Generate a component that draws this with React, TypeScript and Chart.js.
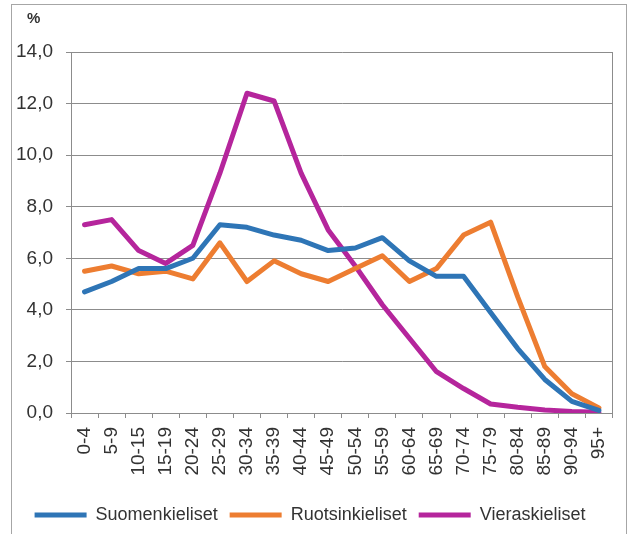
import React, { useEffect, useRef } from "react";
import { Chart, registerables } from "chart.js";

Chart.register(...registerables);

const categories = ["0-4", "5-9", "10-15", "15-19", "20-24", "25-29", "30-34", "35-39", "40-44", "45-49", "50-54", "55-59", "60-64", "65-69", "70-74", "75-79", "80-84", "85-89", "90-94", "95+"];
const suomenkieliset = [4.7, 5.1, 5.6, 5.6, 6.0, 7.3, 7.2, 6.9, 6.7, 6.3, 6.4, 6.8, 5.9, 5.3, 5.3, 3.9, 2.5, 1.3, 0.45, 0.1];
const ruotsinkieliset = [5.5, 5.7, 5.4, 5.5, 5.2, 6.6, 5.1, 5.9, 5.4, 5.1, 5.6, 6.1, 5.1, 5.6, 6.9, 7.4, 4.5, 1.8, 0.75, 0.2];
const vieraskieliset = [7.3, 7.5, 6.3, 5.8, 6.5, 9.3, 12.4, 12.1, 9.3, 7.1, 5.7, 4.2, 2.9, 1.6, 0.95, 0.35, 0.22, 0.12, 0.06, 0.03];
const seriesNames = ["Suomenkieliset", "Ruotsinkieliset", "Vieraskieliset"];
const seriesColors = ["#2e75b6", "#ed7d31", "#b5259c"];
const yMin = 0;
const yMax = 14;
const yStep = 2;
const unitLabel = "%";

const FONT = "'Liberation Sans', Arial, sans-serif";
const GRID = "#8c8c8c";

const extras = {
  id: "extras",
  afterDraw(chart: any) {
    const { ctx, chartArea } = chart;
    ctx.save();
    ctx.strokeStyle = GRID;
    ctx.lineWidth = 1;
    ctx.beginPath();
    const x = Math.round(chartArea.right) + 0.5;
    ctx.moveTo(x, chartArea.top);
    ctx.lineTo(x, chartArea.bottom);
    ctx.stroke();
    ctx.fillStyle = "#333";
    ctx.font = `bold 15px ${FONT}`;
    ctx.textAlign = "left";
    ctx.textBaseline = "middle";
    ctx.fillText(unitLabel, chartArea.left - 44, chartArea.top - 33);
    ctx.restore();
  },
};

export default function App() {
  const ref = useRef<HTMLCanvasElement | null>(null);
  useEffect(() => {
    document.body.style.margin = "0";
    const data = [suomenkieliset, ruotsinkieliset, vieraskieliset];
    const chart = new Chart(ref.current as HTMLCanvasElement, {
      type: "line",
      data: {
        labels: categories,
        datasets: data.map((d, i) => ({
          label: seriesNames[i],
          data: d,
          borderColor: seriesColors[i],
          backgroundColor: seriesColors[i],
          borderWidth: 5,
          pointRadius: 0,
          tension: 0,
          borderJoinStyle: "round" as const,
          borderCapStyle: "round" as const,
        })),
      },
      options: {
        responsive: false,
        animation: false,
        layout: { padding: { left: 0, right: 11, top: 52, bottom: 0 } },
        plugins: {
          tooltip: { enabled: false },
          legend: {
            position: "bottom",
            labels: {
              boxWidth: 52,
              boxHeight: 5,
              padding: 12,
              color: "#333",
              font: { family: FONT, size: 18 },
              generateLabels: (c: any) =>
                Chart.defaults.plugins.legend.labels.generateLabels(c).map((it: any) => ({ ...it, lineWidth: 0 })),
            },
          },
        },
        scales: {
          x: {
            type: "category",
            offset: true,
            afterFit: (s: any) => { s.height = 81; },
            grid: { offset: true, drawOnChartArea: false, drawTicks: true, tickLength: 5, color: GRID },
            border: { display: true, color: GRID },
            ticks: {
              autoSkip: false,
              minRotation: 90,
              maxRotation: 90,
              padding: 9,
              color: "#333",
              font: { family: FONT, size: 19 },
            },
          },
          y: {
            min: yMin,
            max: yMax,
            afterFit: (s: any) => { s.width = 71; },
            grid: { color: GRID, tickLength: 5, drawTicks: true },
            border: { display: true, color: GRID },
            ticks: {
              stepSize: yStep,
              padding: 13,
              color: "#333",
              font: { family: FONT, size: 19 },
              callback: (v: any) => Number(v).toFixed(1).replace(".", ","),
            },
          },
        },
      },
      plugins: [extras],
    });
    return () => chart.destroy();
  }, []);
  return (
    <div style={{ position: "relative", width: 631, height: 534, overflow: "hidden", background: "#fff" }}>
      <div style={{ position: "absolute", left: 11, top: 4, width: 616, height: 560, border: "1px solid #a6a6a6", boxSizing: "border-box" }} />
      <canvas ref={ref} width={631} height={534} style={{ position: "absolute", left: 0, top: 0 }} />
    </div>
  );
}
